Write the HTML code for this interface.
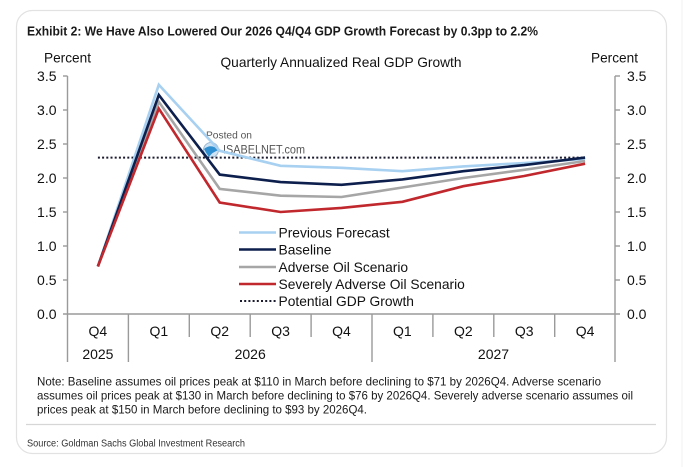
<!DOCTYPE html>
<html><head><meta charset="utf-8"><style>
html,body{margin:0;padding:0;background:#fff;}
svg{display:block;}
text{font-family:"Liberation Sans",Arial,sans-serif;}
</style></head><body>
<svg width="693" height="467" viewBox="0 0 693 467" xmlns="http://www.w3.org/2000/svg">
<rect x="0" y="0" width="693" height="467" fill="#fff"/>
<line x1="682" y1="0" x2="682" y2="467" stroke="#f0f0f0" stroke-width="1"/>
<rect x="16.5" y="10.5" width="650" height="443" rx="16" ry="16" fill="#fff" stroke="#e2e2e2" stroke-width="1.2"/>
<text x="27" y="35.5" font-size="12.5" font-weight="bold" fill="#1a1a1a" textLength="511" lengthAdjust="spacingAndGlyphs">Exhibit 2: We Have Also Lowered Our 2026 Q4/Q4 GDP Growth Forecast by 0.3pp to 2.2%</text>
<text x="44" y="62.5" font-size="14" fill="#111" textLength="47" lengthAdjust="spacingAndGlyphs">Percent</text>
<text x="591" y="62.5" font-size="14" fill="#111" textLength="47" lengthAdjust="spacingAndGlyphs">Percent</text>
<text x="341" y="67" font-size="14" fill="#111" text-anchor="middle" textLength="241" lengthAdjust="spacingAndGlyphs">Quarterly Annualized Real GDP Growth</text>
<g stroke="#9a9a9a" stroke-width="1.4" fill="none">
<line x1="67.5" y1="76" x2="67.5" y2="362"/>
<line x1="615" y1="76" x2="615" y2="362"/>
<line x1="63" y1="314" x2="620" y2="314"/>
<line x1="63" y1="76" x2="67.5" y2="76"/><line x1="63" y1="110" x2="67.5" y2="110"/><line x1="63" y1="144" x2="67.5" y2="144"/><line x1="63" y1="178" x2="67.5" y2="178"/><line x1="63" y1="212" x2="67.5" y2="212"/><line x1="63" y1="246" x2="67.5" y2="246"/><line x1="63" y1="280" x2="67.5" y2="280"/>
<line x1="615" y1="76" x2="620" y2="76"/><line x1="615" y1="110" x2="620" y2="110"/><line x1="615" y1="144" x2="620" y2="144"/><line x1="615" y1="178" x2="620" y2="178"/><line x1="615" y1="212" x2="620" y2="212"/><line x1="615" y1="246" x2="620" y2="246"/><line x1="615" y1="280" x2="620" y2="280"/>
<line x1="128.4" y1="314" x2="128.4" y2="362"/>
<line x1="189.3" y1="314" x2="189.3" y2="337"/>
<line x1="250.2" y1="314" x2="250.2" y2="337"/>
<line x1="311.1" y1="314" x2="311.1" y2="337"/>
<line x1="372" y1="314" x2="372" y2="362"/>
<line x1="432.9" y1="314" x2="432.9" y2="337"/>
<line x1="493.8" y1="314" x2="493.8" y2="337"/>
<line x1="554.7" y1="314" x2="554.7" y2="337"/>
</g>
<g font-size="14" fill="#111" text-anchor="end">
<text x="56.5" y="81">3.5</text><text x="56.5" y="115">3.0</text><text x="56.5" y="149">2.5</text><text x="56.5" y="183">2.0</text><text x="56.5" y="217">1.5</text><text x="56.5" y="251">1.0</text><text x="56.5" y="285">0.5</text><text x="56.5" y="319">0.0</text>
</g>
<g font-size="14" fill="#111">
<text x="627" y="81">3.5</text><text x="627" y="115">3.0</text><text x="627" y="149">2.5</text><text x="627" y="183">2.0</text><text x="627" y="217">1.5</text><text x="627" y="251">1.0</text><text x="627" y="285">0.5</text><text x="627" y="319">0.0</text>
</g>
<g font-size="14" fill="#111" text-anchor="middle">
<text x="97.9" y="336">Q4</text><text x="158.8" y="336">Q1</text><text x="219.7" y="336">Q2</text><text x="280.6" y="336">Q3</text><text x="341.5" y="336">Q4</text><text x="402.4" y="336">Q1</text><text x="463.3" y="336">Q2</text><text x="524.2" y="336">Q3</text><text x="585.1" y="336">Q4</text>
<text x="97.9" y="359">2025</text><text x="250.2" y="359">2026</text><text x="493.5" y="359">2027</text>
</g>
<!-- watermark -->
<text x="206" y="138.5" font-size="10.5" fill="#555" textLength="46" lengthAdjust="spacingAndGlyphs">Posted on</text>
<circle cx="211" cy="150" r="7.5" fill="#cfe3f3" stroke="#9ab8d3" stroke-width="1"/>
<path d="M204 149 Q211 143 219 150 Q212 152 209 157 Q206 153 204 149Z" fill="#2f8fd0"/>
<text x="223" y="153.5" font-size="12" fill="#555" textLength="82" lengthAdjust="spacingAndGlyphs">ISABELNET.com</text>
<!-- potential GDP -->
<line x1="97.9" y1="157.6" x2="585.1" y2="157.6" stroke="#1a1a2e" stroke-width="2" stroke-dasharray="2 2.2"/>
<g fill="none" stroke-width="2.6" stroke-linejoin="miter">
<polyline stroke="#a8d0f0" points="97.9,266.4 158.8,84.8 219.7,150.8 280.6,165.8 341.5,167.8 402.4,171.2 463.3,166.4 524.2,163 585.1,159"/>
<polyline stroke="#a6a6a6" points="97.9,266.4 158.8,101.8 219.7,188.9 280.6,195.7 341.5,197 402.4,187.5 463.3,178 524.2,169.8 585.1,161"/>
<polyline stroke="#0d1f4d" points="97.9,266.4 158.8,95 219.7,174.6 280.6,182.1 341.5,184.8 402.4,179.4 463.3,171.2 524.2,165.1 585.1,157.6"/>
<polyline stroke="#c0282d" points="97.9,266.4 158.8,108.6 219.7,202.5 280.6,212 341.5,207.9 402.4,201.8 463.3,186.2 524.2,176 585.1,163.7"/>
</g>
<!-- legend -->
<g stroke-width="2.6">
<line x1="239" y1="232.5" x2="276" y2="232.5" stroke="#a8d0f0"/>
<line x1="239" y1="249.5" x2="276" y2="249.5" stroke="#0d1f4d"/>
<line x1="239" y1="267" x2="276" y2="267" stroke="#a6a6a6"/>
<line x1="239" y1="284" x2="276" y2="284" stroke="#c0282d"/>
<line x1="240" y1="301" x2="276" y2="301" stroke="#1a1a2e" stroke-width="2" stroke-dasharray="2 2.2"/>
</g>
<g font-size="13.8" fill="#111">
<text x="278.5" y="237.5">Previous Forecast</text>
<text x="278.5" y="254.5">Baseline</text>
<text x="278.5" y="272">Adverse Oil Scenario</text>
<text x="278.5" y="289">Severely Adverse Oil Scenario</text>
<text x="278.5" y="306">Potential GDP Growth</text>
</g>
<g font-size="12" fill="#1a1a1a">
<text x="37" y="385.5" textLength="564" lengthAdjust="spacingAndGlyphs">Note: Baseline assumes oil prices peak at $110 in March before declining to $71 by 2026Q4. Adverse scenario</text>
<text x="37" y="399.5" textLength="596" lengthAdjust="spacingAndGlyphs">assumes oil prices peak at $130 in March before declining to $76 by 2026Q4. Severely adverse scenario assumes oil</text>
<text x="37" y="413.5" textLength="330" lengthAdjust="spacingAndGlyphs">prices peak at $150 in March before declining to $93 by 2026Q4.</text>
</g>
<line x1="26" y1="424.5" x2="656" y2="424.5" stroke="#d6d6d6" stroke-width="1.2"/>
<text x="27" y="446.5" font-size="10" fill="#333" textLength="218" lengthAdjust="spacingAndGlyphs">Source: Goldman Sachs Global Investment Research</text>
</svg>
</body></html>
